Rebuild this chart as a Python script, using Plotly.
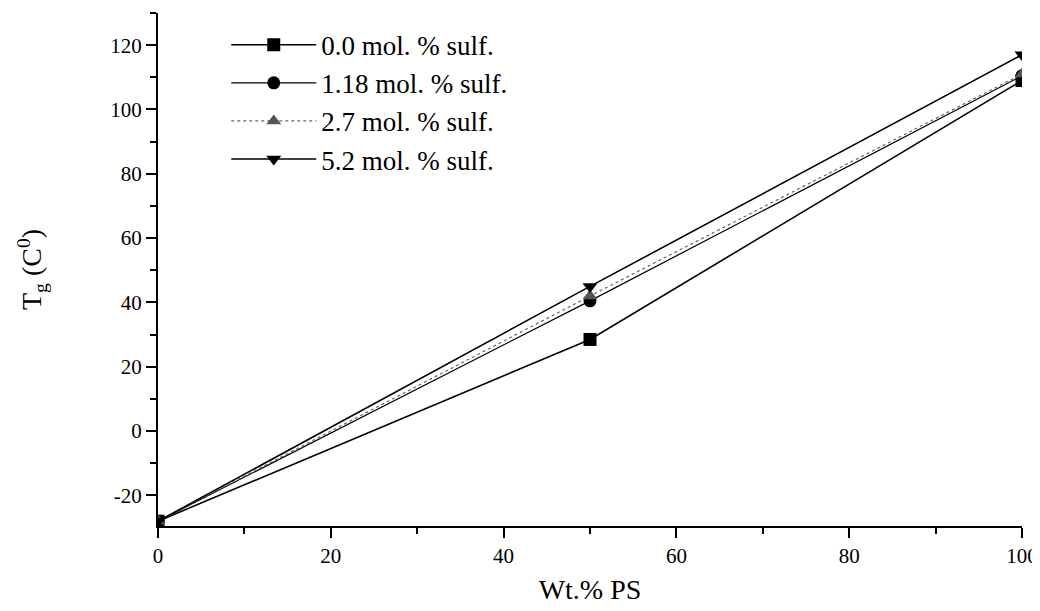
import plotly.graph_objects as go

wt_ps = [0, 50, 100]
series_names = ["0.0 mol. % sulf.", "1.18 mol. % sulf.", "2.7 mol. % sulf.", "5.2 mol. % sulf."]
tg_00 = [-28, 28.5, 109]
tg_118 = [-28, 40.5, 110.5]
tg_27 = [-28, 42, 111]
tg_52 = [-28, 45, 117]

x_ticks = [0, 20, 40, 60, 80, 100]
y_ticks = [-20, 0, 20, 40, 60, 80, 100, 120]
y_tick_labels = ["-20", "0", "20", "40", "60", "80", "100", "120"]

styles = [
    dict(symbol="square", dash="solid", color="black", width=1.6, mcolor="black"),
    dict(symbol="circle", dash="solid", color="black", width=1.2, mcolor="black"),
    dict(symbol="triangle-up", dash="dot", color="#666666", width=1.2, mcolor="#555555"),
    dict(symbol="triangle-down", dash="solid", color="black", width=1.6, mcolor="black"),
]

fig = go.Figure()
for name, ys, st in zip(series_names, [tg_00, tg_118, tg_27, tg_52], styles):
    fig.add_trace(go.Scatter(
        x=wt_ps, y=ys, name=name, mode="lines+markers",
        line=dict(color=st["color"], width=st["width"], dash=st["dash"]),
        marker=dict(symbol=st["symbol"], size=13, color=st["mcolor"]),
    ))

font_family = "Liberation Serif"
fig.update_layout(
    width=1032, height=603,
    margin=dict(l=150, r=18, t=5, b=85),
    paper_bgcolor="white", plot_bgcolor="white",
    font=dict(family=font_family, color="black", size=20),
    showlegend=True,
    legend=dict(
        x=0.079, y=0.985, xanchor="left", yanchor="top",
        font=dict(family=font_family, size=27, color="black"),
        bgcolor="rgba(0,0,0,0)", itemwidth=85, tracegroupgap=0,
    ),
    xaxis=dict(
        range=[0, 100], tickvals=x_ticks,
        ticks="outside", ticklen=10, tickwidth=2, tickcolor="black",
        showline=True, linecolor="black", linewidth=2,
        showgrid=False, zeroline=False, automargin=False,
        minor=dict(dtick=10, ticks="outside", ticklen=6, tickwidth=2, tickcolor="black"),
        tickfont=dict(family=font_family, size=21),
        title=dict(text="Wt.% PS", font=dict(family=font_family, size=28), standoff=12),
    ),
    yaxis=dict(
        range=[-29.5, 130], tickvals=y_ticks, ticktext=y_tick_labels,
        ticks="outside", ticklen=10, tickwidth=2, tickcolor="black",
        showline=True, linecolor="black", linewidth=2,
        showgrid=False, zeroline=False, automargin=False,
        minor=dict(dtick=10, ticks="outside", ticklen=6, tickwidth=2, tickcolor="black"),
        tickfont=dict(family=font_family, size=21),
        title=dict(text="T<sub>g</sub> (C<sup>0</sup>)", font=dict(family=font_family, size=28), standoff=60),
    ),
)

fig.write_html("out.html")
